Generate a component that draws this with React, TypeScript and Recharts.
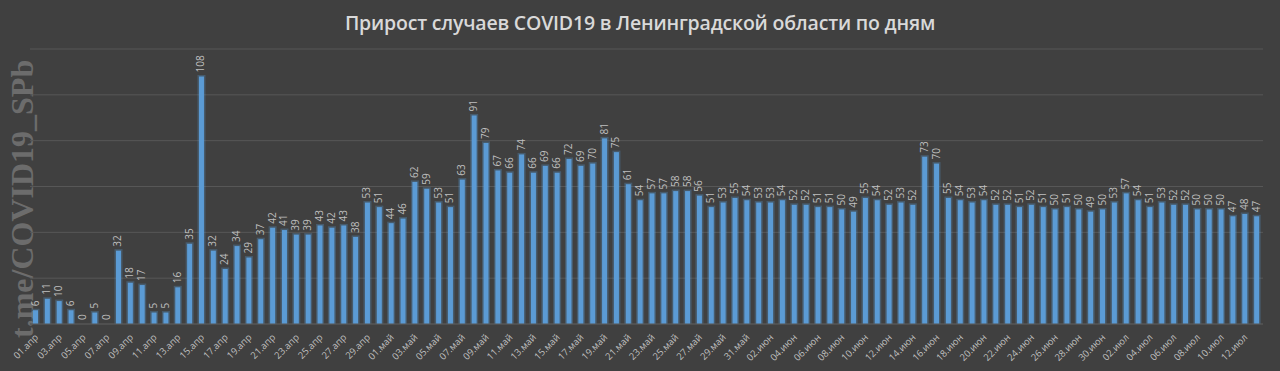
import React from "react";
import { BarChart, Bar, XAxis, YAxis, CartesianGrid, LabelList } from "recharts";

const aprilCases = [6, 11, 10, 6, 0, 5, 0, 32, 18, 17, 5, 5, 16, 35, 108, 32, 24, 34, 29, 37, 42, 41, 39, 39, 43, 42, 43, 38, 53, 51];
const mayCases = [44, 46, 62, 59, 53, 51, 63, 91, 79, 67, 66, 74, 66, 69, 66, 72, 69, 70, 81, 75, 61, 54, 57, 57, 58, 58, 56, 51, 53, 55, 54];
const juneCases = [53, 53, 54, 52, 52, 51, 51, 50, 49, 55, 54, 52, 53, 52, 73, 70, 55, 54, 53, 54, 52, 52, 51, 52, 51, 50, 51, 50, 49, 50];
const julyCases = [53, 57, 54, 51, 53, 52, 52, 50, 50, 50, 47, 48, 47];

const months = [
  { suffix: "апр", values: aprilCases },
  { suffix: "май", values: mayCases },
  { suffix: "июн", values: juneCases },
  { suffix: "июл", values: julyCases },
];

const yTicks = [0, 20, 40, 60, 80, 100, 120];

const data = months.flatMap((m) =>
  m.values.map((v, i) => ({
    day: `${String(i + 1).padStart(2, "0")}.${m.suffix}`,
    cases: v,
  }))
);

const BAR = "#5b9bd5";
const TEXT = "#bfbfbf";
const FONT = "'Open Sans', 'Liberation Sans', sans-serif";

const GlowBar = (props: any) => {
  const { x, y, width, height } = props;
  if (height <= 0) return null;
  return (
    <g>
      <rect x={x - 1.5} y={y - 1.5} width={width + 3} height={height + 1.5} fill={BAR} opacity={0.3} />
      <rect x={x} y={y} width={width} height={height} fill={BAR} />
    </g>
  );
};

const ValueLabel = (props: any) => {
  const { x, y, width, value } = props;
  const cx = x + width / 2 + 3;
  const cy = y - 4;
  return (
    <text
      x={cx}
      y={cy}
      transform={`rotate(-90 ${cx} ${cy})`}
      textAnchor="start"
      fontSize={10}
      fill={TEXT}
      fontFamily={FONT}
    >
      {value}
    </text>
  );
};

const DayTick = (props: any) => {
  const { x, y, payload } = props;
  const tx = x + 3;
  const ty = y + 6;
  return (
    <text
      x={tx}
      y={ty}
      transform={`rotate(-45 ${tx} ${ty})`}
      textAnchor="end"
      fontSize={9.5}
      fill={TEXT}
      fontFamily={FONT}
    >
      {payload.value}
    </text>
  );
};

export default function App() {
  return (
    <div style={{ position: "absolute", left: 0, top: 0, width: 1280, height: 371, background: "#404040", overflow: "hidden" }}>
      <svg width={1280} height={371} style={{ position: "absolute", left: 0, top: 0 }}>
        <text
          x={33}
          y={338}
          transform="rotate(-90 33 338)"
          fontFamily="'Liberation Serif', 'DejaVu Serif', serif"
          fontWeight="bold"
          fontSize={32}
          fill="#6c6c6c"
        >
          t.me/COVID19_SPb
        </text>
      </svg>
      <BarChart
        width={1280}
        height={371}
        data={data}
        margin={{ top: 49, right: 17, left: 30, bottom: 0 }}
        barCategoryGap={0}
        style={{ position: "absolute", left: 0, top: 0 }}
      >
        <CartesianGrid vertical={false} stroke="#575757" />
        <XAxis
          dataKey="day"
          interval={1}
          tickLine={false}
          axisLine={{ stroke: "#575757" }}
          height={47}
          tick={<DayTick />}
        />
        <YAxis hide domain={[0, 120]} ticks={yTicks} />
        <Bar dataKey="cases" barSize={5} shape={<GlowBar />} isAnimationActive={false}>
          <LabelList dataKey="cases" content={<ValueLabel />} />
        </Bar>
        <text
          x={640}
          y={30}
          textAnchor="middle"
          fill="#d9d9d9"
          fontFamily={FONT}
          fontWeight={600}
          fontSize={19.5}
          letterSpacing={-0.2}
        >
          Прирост случаев COVID19 в Ленинградской области по дням
        </text>
      </BarChart>
    </div>
  );
}
